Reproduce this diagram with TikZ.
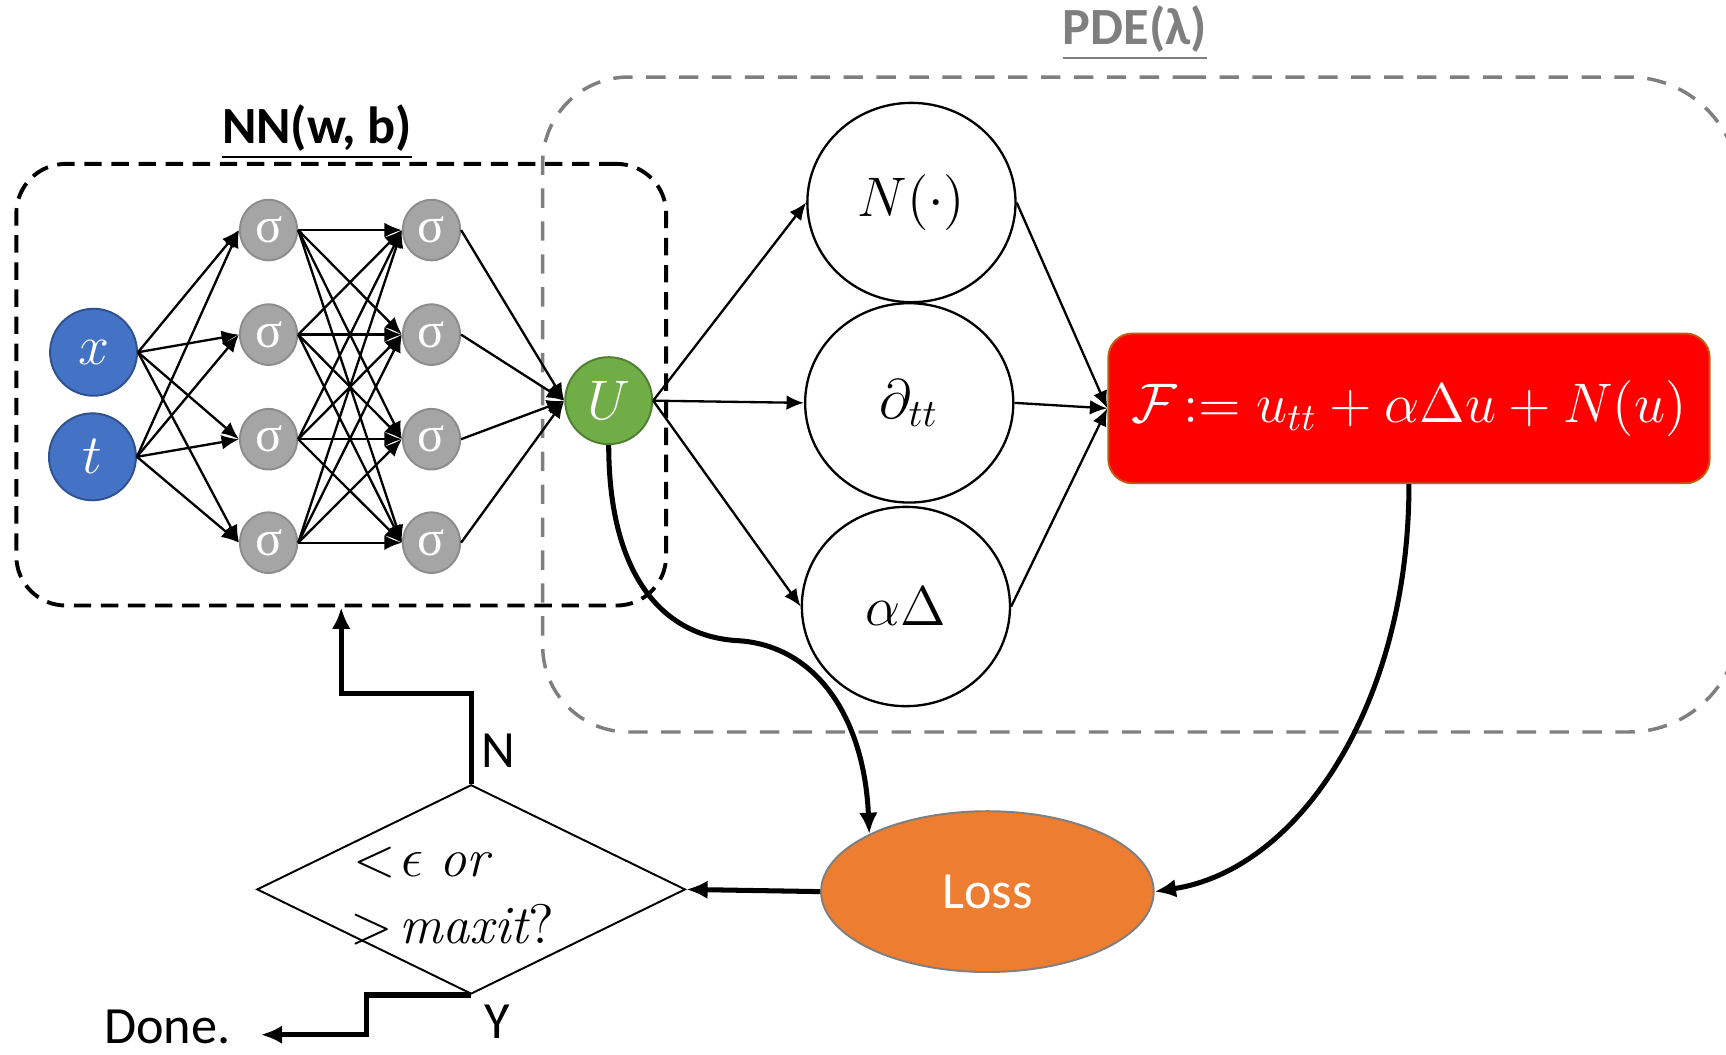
\documentclass[tikz,border=0pt]{standalone}
\usepackage{fontspec}
\newfontfamily\calibri{Carlito}
\newfontfamily\sigfont{Liberation Serif}
\usetikzlibrary{arrows.meta,shapes.geometric}
\definecolor{inblue}{HTML}{4472C4}
\definecolor{inblueb}{HTML}{2F528F}
\definecolor{siggray}{HTML}{A5A5A5}
\definecolor{siggrayb}{HTML}{8C8C8C}
\definecolor{ugreen}{HTML}{70AD47}
\definecolor{ugreenb}{HTML}{507E32}
\definecolor{fred}{HTML}{FF0000}
\definecolor{fredb}{HTML}{C55A11}
\definecolor{lossor}{HTML}{ED7D31}
\definecolor{pdegray}{HTML}{7F7F7F}
\begin{document}
\begin{tikzpicture}[x=0.01cm,y=-0.01cm,
  nnbox/.style={draw=black, line width=1pt, dash pattern=on 4.5pt off 2.5pt, rounded corners=0.45cm, minimum width=5.9cm, minimum height=4.01cm, inner sep=0},
  pdebox/.style={draw=pdegray, line width=0.9pt, dash pattern=on 5pt off 3.5pt},
  inp/.style={circle, fill=inblue, draw=inblueb, line width=0.5pt, minimum size=0.79cm, inner sep=0, text=white, font=\fontsize{15}{15}\selectfont},
  sig/.style={ellipse, fill=siggray, draw=siggrayb, line width=0.5pt, minimum width=0.52cm, minimum height=0.55cm, inner sep=0, text=white, font=\sigfont\fontsize{13}{13}\selectfont},
  unode/.style={circle, fill=ugreen, draw=ugreenb, line width=0.5pt, minimum size=0.79cm, inner sep=0, text=white, font=\fontsize{14}{14}\selectfont},
  pdenode/.style={ellipse, draw=black, fill=white, line width=0.6pt, minimum width=1.89cm, minimum height=1.81cm, inner sep=0, font=\fontsize{14}{14}\selectfont},
  fnode/.style={rectangle, rounded corners=0.22cm, fill=fred, draw=fredb, line width=0.5pt, minimum width=5.46cm, minimum height=1.36cm, inner sep=0, text=white, font=\fontsize{14}{14}\selectfont},
  lossnode/.style={ellipse, fill=lossor, draw=pdegray, line width=0.5pt, minimum width=3.02cm, minimum height=1.46cm, inner sep=0, text=white, font=\calibri\fontsize{13.5}{15}\selectfont},
  dianode/.style={diamond, draw=black, line width=0.5pt, minimum width=3.89cm, minimum height=1.90cm, inner sep=0},
  dtext/.style={anchor=west, inner sep=0, font=\fontsize{14}{14}\selectfont},
  lbl/.style={inner sep=0, font=\calibri\fontsize{13.5}{15}\selectfont},
  nnarrow/.style={line width=0.6pt, -{Latex[length=4.5pt,width=3.8pt]}},
  thickarrow/.style={line width=1.3pt, -{Latex[length=5.5pt,width=4.8pt]}}
]
\useasboundingbox (0,0) rectangle (1568,958);
\clip (0,0) rectangle (1568,958);

% containers
\draw[pdebox] (1000,70) [rounded corners=1.0cm] -- (1580,70) -- (1580,665) -- (1000,665)
  [rounded corners=0.78cm] -- (493,665) -- (493,70) -- cycle;
\node[nnbox] (nn) at (310,349.5) {};

% labels
\node[lbl] (nnl) at (288,120) {\bfseries\underline{NN(w, b)}};
\node[lbl, text=pdegray] (pdel) at (1031,30) {\bfseries\underline{PDE(λ)}};

% network
\node[inp] (x) at (85,320) {$x$};
\node[inp] (t) at (84,415) {$t$};
\foreach \i/\yy in {1/209,2/304,3/399,4/493} {
  \node[sig] (a\i) at (244,\yy) {σ};
  \node[sig] (b\i) at (392,\yy) {σ};
}
\node[unode] (U) at (553,364) {$U$};

\foreach \s in {x,t} \foreach \j in {1,...,4} \draw[nnarrow] (\s.east) -- (a\j.west);
\foreach \i in {1,...,4} \foreach \j in {1,...,4} \draw[nnarrow] (a\i.east) -- (b\j.west);
\foreach \j in {1,...,4} \draw[nnarrow] (b\j.east) -- (U.west);

% PDE operators
\node[pdenode] (N) at (828,184) {$N(\cdot)$};
\node[pdenode] (D) at (826,366) {$\partial_{tt}$};
\node[pdenode] (A) at (823,551) {$\alpha\Delta$};
\node[fnode] (F) at (1280,371) {$\mathcal{F}\!:= u_{tt} + \alpha\Delta u + N(u)$};

\draw[nnarrow] (U.east) -- (N.west);
\draw[nnarrow] (U.east) -- (D.west);
\draw[nnarrow] (U.east) -- (A.west);
\draw[nnarrow] (N.east) -- (F.west);
\draw[nnarrow] (D.east) -- (F.west);
\draw[nnarrow] (A.east) -- (F.west);

% loss and decision
\node[lossnode] (L) at (897,810) {Loss};
\node[dianode] (Q) at (428,808) {};
\node[dtext] (q1) at (320,784) {$<\!\epsilon\;\mathit{or}$};
\node[dtext] (q2) at (318,840) {$>\!\mathit{maxit}?$};

\node[lbl] (nlab) at (453,682) {N};
\node[lbl] (ylab) at (452,928) {Y};
\node[lbl] (done) at (152,933) {Done.};

\draw[thickarrow] (U.south) .. controls (553,520) and (600,578) .. (670,582)
  .. controls (740,586) and (785,650) .. (L.154);
\draw[thickarrow] (F.south) .. controls (1280,640) and (1180,790) .. (L.east);
\draw[thickarrow] (L.west) -- (Q.east);

\coordinate (turnN) at (310,630);
\draw[thickarrow] (Q.north) |- (turnN) -- (turnN |- nn.south);
\coordinate (stepY) at (333,940);
\coordinate (doneTip) at (237,940);
\draw[thickarrow] (Q.south) -| (stepY) -- (doneTip);
\end{tikzpicture}
\end{document}
